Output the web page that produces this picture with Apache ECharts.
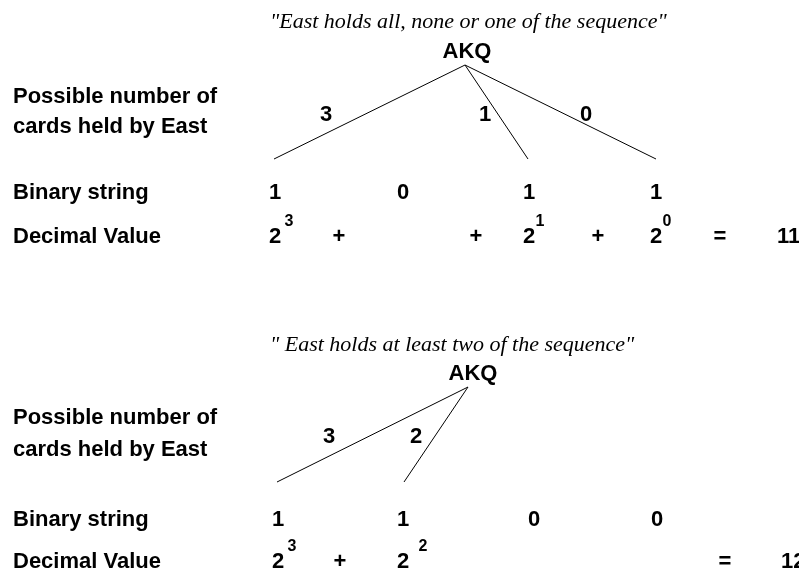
<!DOCTYPE html>
<html>
<head>
<meta charset="utf-8">
<script src="https://cdn.jsdelivr.net/npm/echarts@6/dist/echarts.min.js"></script>
<style>
	html, body { margin: 0; padding: 0; background: #fff; }
	#AKQChart { width: 799px; height: 573px; }
</style>
</head>
<body>
<div id="AKQChart"></div>
<script>
	// ---- data ----
	var rowTitles = ['Possible number of', 'cards held by East', 'Binary string', 'Decimal Value'];
	var scenarioTitles = ['"East holds all, none or one of the sequence"', '" East holds at least two of the sequence"'];
	var rootLabel = 'AKQ';

	var topBranches = ['3', '1', '0'];
	var topBinary = ['1', '0', '1', '1'];
	var topExponents = ['3', '', '1', '0'];
	var topOps = ['+', '+', '+'];
	var topTotal = '11';

	var bottomBranches = ['3', '2'];
	var bottomBinary = ['1', '1', '0', '0'];
	var bottomExponents = ['3', '2', '', ''];
	var bottomOps = ['+', '', ''];
	var bottomTotal = '12';

	// ---- layout (pixel space of the 799x573 frame) ----
	var layout = [
		{
			titleX: 270, titleY: 22,
			rootX: 467, rootY: 52, apex: [465, 65],
			branchEnds: [[274, 159], [528, 159], [656, 159]],
			branchLabelPos: [[326, 115], [485, 115], [586, 115]],
			rowY: [97, 127, 193, 237],
			colX: [275, 403, 529, 656],
			supDX: [14, 14, 11, 11], supDY: -15,
			opX: [339, 476, 598],
			eqX: 720, totalX: 777
		},
		{
			titleX: 270, titleY: 345,
			rootX: 473, rootY: 374, apex: [468, 387],
			branchEnds: [[277, 482], [404, 482]],
			branchLabelPos: [[329, 437], [416, 437]],
			rowY: [418, 450, 520, 562],
			colX: [278, 403, 534, 657],
			supDX: [14, 20, 11, 11], supDY: -15,
			opX: [340, 476, 598],
			eqX: 725, totalX: 781
		}
	];

	var bold = { fontFamily: 'Liberation Sans, Arial, sans-serif', fontWeight: 'bold', fontSize: 22, color: '#000', textBorderWidth: 0, opacity: 1 };
	var supStyle = { fontFamily: 'Liberation Sans, Arial, sans-serif', fontWeight: 'bold', fontSize: 16, color: '#000', textBorderWidth: 0, opacity: 1 };
	var italic = { fontFamily: 'Liberation Serif, Times New Roman, serif', fontStyle: 'italic', fontSize: 22, color: '#000', textBorderWidth: 0, opacity: 1 };

	function txt(x, y, text, style, align) {
		return {
			name: text,
			value: [x, y],
			label: Object.assign({ show: true, position: [0, 0], align: align || 'center', verticalAlign: 'middle', formatter: '{b}' }, style)
		};
	}

	var texts = [];
	var lineSeries = [];
	var scenarios = [
		{ branches: topBranches, binary: topBinary, exps: topExponents, ops: topOps, total: topTotal },
		{ branches: bottomBranches, binary: bottomBinary, exps: bottomExponents, ops: bottomOps, total: bottomTotal }
	];

	scenarios.forEach(function (s, k) {
		var L = layout[k];
		texts.push(txt(L.titleX, L.titleY, scenarioTitles[k], italic, 'left'));
		texts.push(txt(L.rootX, L.rootY, rootLabel, bold));
		rowTitles.forEach(function (t, i) {
			texts.push(txt(13, L.rowY[i], t, bold, 'left'));
		});
		s.branches.forEach(function (b, i) {
			lineSeries.push({
				type: 'line',
				symbol: 'none',
				silent: true,
				lineStyle: { color: '#000', width: 1, opacity: 1 },
				data: [L.apex, L.branchEnds[i]]
			});
			texts.push(txt(L.branchLabelPos[i][0], L.branchLabelPos[i][1], b, bold));
		});
		s.binary.forEach(function (d, i) {
			texts.push(txt(L.colX[i], L.rowY[2], d, bold));
			if (s.exps[i] !== '') {
				texts.push(txt(L.colX[i], L.rowY[3], '2', bold));
				texts.push(txt(L.colX[i] + L.supDX[i], L.rowY[3] + L.supDY, s.exps[i], supStyle));
			}
		});
		s.ops.forEach(function (o, i) {
			if (o) texts.push(txt(L.opX[i], L.rowY[3], o, bold));
		});
		texts.push(txt(L.eqX, L.rowY[3], '=', bold));
		texts.push(txt(L.totalX, L.rowY[3], s.total, bold, 'left'));
	});

	var AKQChart = echarts.init(document.getElementById('AKQChart'));
	var AKQChart_option = {
		animation: false,
		backgroundColor: '#fff',
		grid: { left: 0, right: 0, top: 0, bottom: 0 },
		xAxis: { type: 'value', min: 0, max: 799, show: false },
		yAxis: { type: 'value', min: 0, max: 573, inverse: true, show: false },
		series: lineSeries.concat([
			{
				type: 'scatter',
				symbolSize: 0,
				silent: true,
				itemStyle: { opacity: 1 },
				data: texts
			}
		])
	};
	AKQChart.setOption(AKQChart_option, true);
</script>
</body>
</html>
